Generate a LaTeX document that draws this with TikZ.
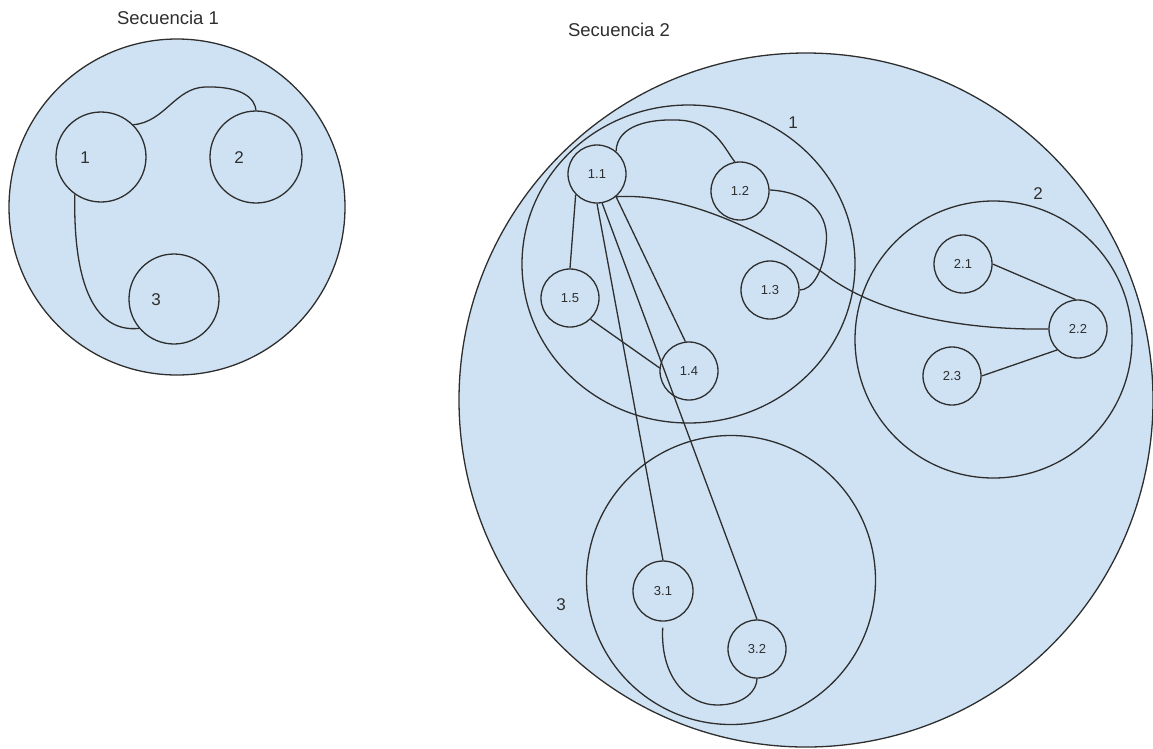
\documentclass[tikz,border=0pt]{standalone}
\usepackage{fontspec}
\setmainfont{Liberation Sans}
\usetikzlibrary{shapes.geometric}
\definecolor{bubble}{HTML}{CFE2F3}
\definecolor{ink}{HTML}{2E2E2E}

\begin{document}
\begin{tikzpicture}[x=1pt,y=-1pt,
  every node/.style={text=ink},
  ring/.style={circle, draw=ink, line width=1.3pt, inner sep=0pt},
  outer/.style={ring, fill=bubble},
  item/.style={ring, minimum size=58pt, font=\fontsize{13}{14}\selectfont},
  link/.style={draw=ink, line width=1.3pt},
  title/.style={font=\fontsize{18.5}{20}\selectfont},
  tag/.style={font=\fontsize{17}{18}\selectfont}]

\useasboundingbox (0,0) rectangle (1153,748);

% ---------- Secuencia 1 ----------
\node[title] (t1) at (168,18) {Secuencia 1};
\node[outer, minimum size=336pt] (s1) at (177,207) {};
\node[ring, minimum size=90pt] (a1) at (101,157) {};
\node[ring, minimum size=92pt] (b1) at (256,157) {};
\node[ring, minimum size=90pt] (c1) at (174,299) {};
\node[tag] (a1t) at (85,158) {1};
\node[tag] (b1t) at (239,158) {2};
\node[tag] (c1t) at (156,300) {3};

\draw[link] (a1.45) .. controls (165,122) and (175,88) .. (205,87)
  .. controls (245,86) and (255,100) .. (b1.north);
\draw[link] (a1.235) .. controls (73,285) and (95,333) .. (c1.220);

% ---------- Secuencia 2 ----------
\node[title] (t2) at (619,30) {Secuencia 2};
\node[outer, minimum size=694pt] (s2) at (806,400) {};
\node[ellipse, draw=ink, line width=1.3pt, inner sep=0pt,
      minimum width=333pt, minimum height=318pt] (g1) at (688.5,264) {};
\node[ring, minimum size=277pt] (g2) at (993.5,339.5) {};
\node[ring, minimum size=289pt] (g3) at (731,580) {};
\node[tag] (g1t) at (793,123) {1};
\node[tag] (g2t) at (1038,194) {2};
\node[tag] (g3t) at (561,605) {3};

\node[item] (n11) at (597,174) {1.1};
\node[item] (n12) at (740,191) {1.2};
\node[item] (n13) at (770,290) {1.3};
\node[item] (n14) at (689,371) {1.4};
\node[item] (n15) at (570,298) {1.5};
\node[item] (n21) at (963,264) {2.1};
\node[item] (n22) at (1078,329) {2.2};
\node[item] (n23) at (952,376) {2.3};
\node[item, minimum size=60pt] (n31) at (663,591) {3.1};
\node[item] (n32) at (757,649) {3.2};

\draw[link] (n11.50) .. controls (617,125) and (650,119) .. (677,120)
  .. controls (715,121) and (725,150) .. (n12.100);
\draw[link] (n12.2) .. controls (810,192) and (830,215) .. (826,245)
  .. controls (823,272) and (812,290) .. (n13.east);
\draw[link] (n11.-50) .. controls (690,192) and (780,240) .. (830,278)
  .. controls (890,320) and (980,330) .. (n22.west);
\draw[link] (n11.224) -- (n15.north);
\draw[link] (n15.314) -- (n14.174);
\draw[link] (n11.-50) -- (n14.97);
\draw[link] (n11.south) -- (n31.north);
\draw[link] (n11.-80) -- (n32.north);
\draw[link, shorten <=6pt] (n31.south) .. controls (660,680) and (690,705) .. (717,705)
  .. controls (745,705) and (757,690) .. (n32.south);
\draw[link] (n21.east) -- (n22.95);
\draw[link] (n23.east) -- (n22.225);
\end{tikzpicture}
\end{document}
